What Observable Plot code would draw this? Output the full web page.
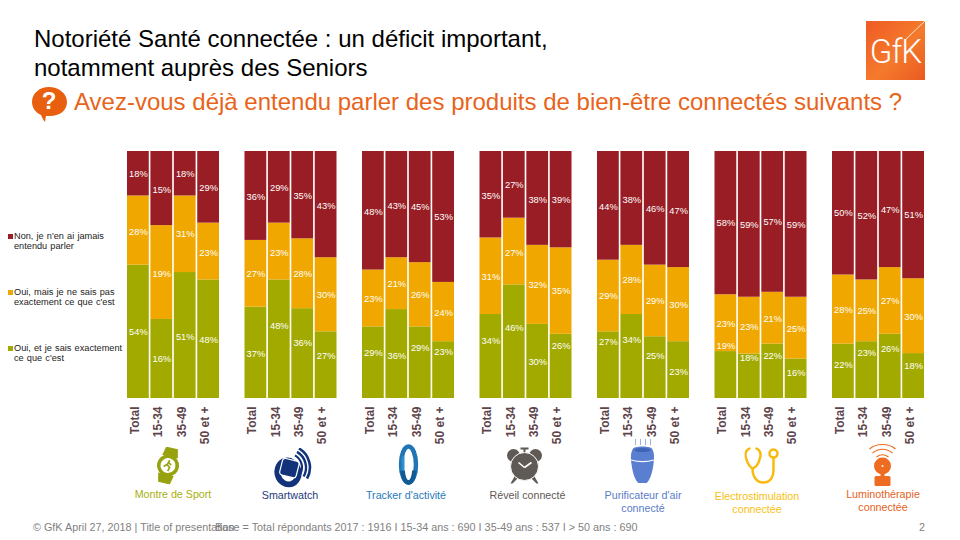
<!DOCTYPE html>
<html lang="fr">
<head>
<meta charset="utf-8">
<script src="https://cdn.jsdelivr.net/npm/d3@7"></script>
<script src="https://cdn.jsdelivr.net/npm/@observablehq/plot@0.6"></script>
<style>
  html, body { margin: 0; padding: 0; background: #fff; }
  body { width: 960px; height: 540px; overflow: hidden; position: relative; font-family: "Liberation Sans", Arial, sans-serif; }
  #head { position: relative; height: 140px; }
  #chart { position: absolute; left: 0; top: 140px; }
  #chart svg { display: block; }
  .abs { position: absolute; white-space: nowrap; }
  .title { left: 34px; font-size: 24px; line-height: 30px; color: #000; }
  .sub { left: 74px; top: 87px; font-size: 24px; line-height: 30px; color: #e8641b; }
  .legend { left: 14px; font-size: 9.2px; line-height: 10.4px; color: #222; word-spacing: .6px; }
  .swatch { left: 8px; width: 5px; height: 5px; }
  .foot { top: 521px; font-size: 10.8px; line-height: 12px; color: #7f7f7f; }
  #logo { left: 866px; top: 21px; width: 59px; height: 59px; background: linear-gradient(135deg, #ef5a24 0%, #f47a2c 55%, #ea5a20 100%); overflow: hidden; }
  #logo span { position: absolute; left: 0; right: 0; top: 12px; text-align: center; font-family: Roboto, "Liberation Sans", sans-serif; font-size: 33px; line-height: 38px; font-weight: 300; color: #fff; letter-spacing: -1px; }
</style>
</head>
<body>
<div id="head">
  <div class="abs title" style="top:24px">Notoriété Santé connectée : un déficit important,</div>
  <div class="abs title" style="top:53px">notamment auprès des Seniors</div>
  <svg class="abs" style="left:31px;top:86px" width="38" height="38" viewBox="0 0 38 38" aria-hidden="true">
    <path d="M18 1C27 1 36 7 36 16C36 25 28 30 19 30C17 30 16 30 15 30L14 36C12 34 11 31 10 29C5 27 1 22 1 16C1 7 9 1 18 1Z" fill="#e8600f"/>
  </svg>
  <div class="abs" style="left:31px;top:87px;width:36px;text-align:center;font-size:24px;line-height:28px;font-weight:700;color:#fff">?</div>
  <div class="abs sub">Avez-vous déjà entendu parler des produits de bien-être connectés suivants ?</div>
  <div class="abs" id="logo"><svg width="59" height="59" style="position:absolute;left:0;top:0" aria-hidden="true"><path d="M38 20L59 0" stroke="#fff" stroke-width="1" opacity=".8"/></svg><span>GfK</span></div>
</div>
<div id="chart"></div>

<div class="abs swatch" style="top:234px;background:#981d24"></div>
<div class="abs legend" style="top:231px">Non, je n'en ai jamais<br>entendu parler</div>
<div class="abs swatch" style="top:290px;background:#f0a800"></div>
<div class="abs legend" style="top:287px">Oui, mais je ne sais pas<br>exactement ce que c'est</div>
<div class="abs swatch" style="top:346px;background:#a2aa00"></div>
<div class="abs legend" style="top:343px">Oui, et je sais exactement<br>ce que c'est</div>

<div class="abs foot" style="left:33px">© GfK April 27, 2018 | Title of presentation</div>
<div class="abs foot" style="left:215px">Base = Total répondants 2017 : 1916 I 15-34 ans : 690 I 35-49 ans : 537 I &gt; 50 ans : 690</div>
<div class="abs foot" style="left:919px">2</div>

<script>
const products = ["Montre de Sport", "Smartwatch", "Tracker d'activité", "Réveil connecté", "Purificateur d'air\nconnecté", "Electrostimulation\nconnectée", "Luminothérapie\nconnectée"];
const ages = ["Total", "15-34", "35-49", "50 et +"];
const answers = ["Oui, et je sais exactement ce que c'est", "Oui, mais je ne sais pas exactement ce que c'est", "Non, je n'en ai jamais entendu parler"];
const answerColors = ["#a2aa00", "#f0a800", "#981d24"];
const productColors = ["#a7b00f", "#1f3a7a", "#2a7ab8", "#5f5a55", "#5b7cc7", "#f8bf13", "#e5611b"];

// Printed percentages, product by product, age by age
const greenShown = [54,16,51,48, 37,48,36,27, 29,36,29,23, 34,46,30,26, 27,34,25,23, 19,18,22,16, 22,23,26,18];
const yellowShown = [28,19,31,23, 27,23,28,30, 23,21,26,24, 31,27,32,35, 29,28,29,30, 23,23,21,25, 28,25,27,30];
const redShown = [18,15,18,29, 36,29,35,43, 48,43,45,53, 35,27,38,39, 44,38,46,47, 58,59,57,59, 50,52,47,51];

// Segment heights as drawn: they equal the printed values except one bar, drawn at twice its printed figures
const greenDrawn = [54,32,51,48, 37,48,36,27, 29,36,29,23, 34,46,30,26, 27,34,25,23, 19,18,22,16, 22,23,26,18];
const yellowDrawn = [28,38,31,23, 27,23,28,30, 23,21,26,24, 31,27,32,35, 29,28,29,30, 23,23,21,25, 28,25,27,30];
const redDrawn = [18,30,18,29, 36,29,35,43, 48,43,45,53, 35,27,38,39, 44,38,46,47, 58,59,57,59, 50,52,47,51];

// Where each printed figure sits along the 0-100 value axis
const greenLabelAt = [26.9,15.9,25,23.8, 18.2,29.3,22.4,17.3, 18.4,17.4,20.6,19, 23.3,28.7,14.6,21.1, 22.7,23.6,17,10.9, 21.1,16.2,17.3,10.3, 13.4,18.4,20.2,13];
const yellowLabelAt = [67.6,50.6,66.4,59.1, 50.3,59.1,50.3,41.8, 40.2,46.2,41.8,34.8, 49,59.1,45.9,43.5, 41.4,47.8,39.4,37.9, 30.1,29.1,32,28.1, 35.8,35.4,39.3,32.8];
const redLabelAt = [90.8,84.5,90.8,85.4, 81.6,85.4,82.1,78.1, 75.7,78.1,77.5,73.4, 82.1,86.4,80.4,80.2, 77.7,80.4,76.9,76.1, 71,70.2,71.4,70.2, 75,73.8,76.2,74.2];

const drawn = [greenDrawn, yellowDrawn, redDrawn];
const shown = [greenShown, yellowShown, redShown];
const labelAt = [greenLabelAt, yellowLabelAt, redLabelAt];

const rows = answers.flatMap((answer, a) =>
  products.flatMap((product, p) =>
    ages.map((age, g) => {
      const i = p * 4 + g;
      return {product, age, answer, value: drawn[a][i], shown: shown[a][i], at: labelAt[a][i] / 100};
    })));

function uri(body, w, h) {
  return "data:image/svg+xml;utf8," + encodeURIComponent(`<svg xmlns="http://www.w3.org/2000/svg" width="${w}" height="${h}" viewBox="0 0 ${w} ${h}">${body}</svg>`);
}

const icons = [
  {w: 26, h: 38, cx: -5.5, cy: 314, src: uri(`<g transform="rotate(13 13 19)" fill="#97a20f"><path d="M7 1h12l2 9H5z"/><path d="M5 28h16l-2 9H7z"/><circle cx="13" cy="19" r="11"/><circle cx="13" cy="19" r="7.5" fill="#fff"/><path d="M13.5 13.5l-1.5 5 3 2-1 4M12 18l-3 3M12.5 15.5l3.5 2.5" fill="none" stroke="#97a20f" stroke-width="1.6"/></g>`, 26, 38)},
  {w: 40, h: 40, cx: 3, cy: 316, src: uri(`<g fill="none" stroke="#12337a"><ellipse cx="14" cy="25" rx="10.5" ry="12" transform="rotate(-15 14 25)" stroke-width="6"/><rect x="7" y="12" width="17" height="17" rx="3" transform="rotate(14 15 20)" fill="#12337a" stroke="#fff" stroke-width="1.2"/><path d="M21 7.9A14 14 0 0 1 26.1 27" stroke-width="2.2"/><path d="M23 4.4A18 18 0 0 1 29.6 29" stroke-width="2.4"/><path d="M25 1A22 22 0 0 1 33 31" stroke-width="2.6"/></g>`, 40, 40)},
  {w: 20, h: 42, cx: 0, cy: 313, src: uri(`<ellipse cx="10" cy="21" rx="7.5" ry="18" fill="none" stroke="#1f75b5" stroke-width="4.5"/><path d="M4 27c1 8 3 12 6 12s5-4 6-12" fill="none" stroke="#125a94" stroke-width="4.5"/><rect x="3" y="13" width="3" height="14" fill="#2e8fd0"/>`, 20, 42)},
  {w: 38, h: 38, cx: -1.5, cy: 314, src: uri(`<g fill="#5f5a55"><circle cx="8" cy="9" r="6.5"/><circle cx="30" cy="9" r="6.5"/><rect x="15" y="1" width="8" height="2"/><rect x="18" y="2" width="2" height="5"/><path d="M9 30l-4 7h2l5-5zM29 30l4 7h-2l-5-5z"/><circle cx="19" cy="20" r="14" stroke="#fff" stroke-width="1"/></g><path d="M19 21l-6-5M19 21l7-5" stroke="#fff" stroke-width="1.6" fill="none"/>`, 38, 38)},
  {w: 24, h: 45, cx: -1, cy: 310, src: uri(`<g stroke="#9db0df" stroke-width="1"><path d="M5 0v6M10 0v6M15 0v6M20 0v6"/></g><path d="M3 9c5-2 13-2 18 0 3 4 3 10 2 16-1 9-4 17-7 19H8C5 42 2 34 1 25 0 19 0 13 3 9Z" fill="#5a7fd0"/><path d="M0.5 21c7 2 16 2 23 0" stroke="#fff" stroke-width="1.1" fill="none"/><ellipse cx="12" cy="11" rx="8" ry="2" fill="#3f63b5"/>`, 24, 45)},
  {w: 36, h: 38, cx: 1.5, cy: 314, src: uri(`<g fill="none" stroke="#f8bb0d" stroke-width="2.5" stroke-linecap="round"><path d="M5 2C1 4 0 8 2 13c1 4 4 8 6 9 3-1 6-5 7-9 2-5 1-9-3-11"/><path d="M8 22c0 8 4 14 11 14s10-6 10-12V11"/><circle cx="29" cy="7" r="4"/></g>`, 36, 38)},
  {w: 32, h: 43, cx: 4, cy: 313, src: uri(`<g fill="none" stroke="#ee6c22" stroke-width="1.2"><path d="M3 6C10 0 22 0 29 6"/><path d="M6 10c6-5 14-5 20 0"/><path d="M10 14c4-3 8-3 12 0"/></g><circle cx="16" cy="23" r="8.5" fill="#ee6c22"/><circle cx="16" cy="23" r="1" fill="#fff"/><rect x="14" y="31" width="4" height="2" fill="#ee6c22"/><rect x="8" y="33" width="16" height="10" rx="1.5" fill="#ee6c22"/>`, 32, 43)}
];

const nameOffsets = [-0.5, -1, -2.5, 1.5, -0.5, -4, 4.5];
const nameDrops = [337.5, 338.5, 338.5, 338.5, 338.5, 339.5, 337.5];

const chart = Plot.plot({
  width: 960,
  height: 400,
  marginTop: 11,
  marginBottom: 142,
  marginLeft: 127,
  marginRight: 36,
  style: {fontFamily: '"Liberation Sans", Arial, sans-serif', background: "transparent", overflow: "visible"},
  fx: {domain: products, paddingInner: 0.217, paddingOuter: 0, round: false, axis: null, label: null},
  x: {domain: ages, paddingInner: 0.07, paddingOuter: 0, round: false, label: null},
  y: {domain: [0, 1], axis: null},
  color: {domain: answers, range: answerColors},
  marks: [
    Plot.barY(rows, Plot.stackY({
      offset: "normalize",
      fx: "product",
      x: "age",
      y: "value",
      z: "answer",
      fill: "answer",
      inset: 0
    })),
    Plot.text(rows, {
      fx: "product",
      x: "age",
      y: "at",
      text: d => d.shown + "%",
      fill: "#fff",
      fontSize: 9.3,
      textAnchor: "middle"
    }),
    Plot.axisX({
      anchor: "bottom",
      tickRotate: -90,
      tickSize: 0,
      tickPadding: 8,
      label: null,
      fontSize: 12,
      fontWeight: 700,
      fill: "#5e444a",
      dx: -3.5
    }),
    ...products.map((product, p) => Plot.image([product], {
      fx: d => d,
      src: () => icons[p].src,
      frameAnchor: "top",
      width: icons[p].w,
      height: icons[p].h,
      dx: icons[p].cx,
      dy: icons[p].cy
    })),
    ...products.map((product, p) => Plot.text([product], {
      fx: d => d,
      text: d => d,
      frameAnchor: "top",
      lineAnchor: "top",
      dx: nameOffsets[p],
      dy: nameDrops[p],
      fill: productColors[p],
      fontSize: 10.7,
      lineHeight: 1.22
    }))
  ]
});
document.getElementById("chart").appendChild(chart);
</script>
</body>
</html>
